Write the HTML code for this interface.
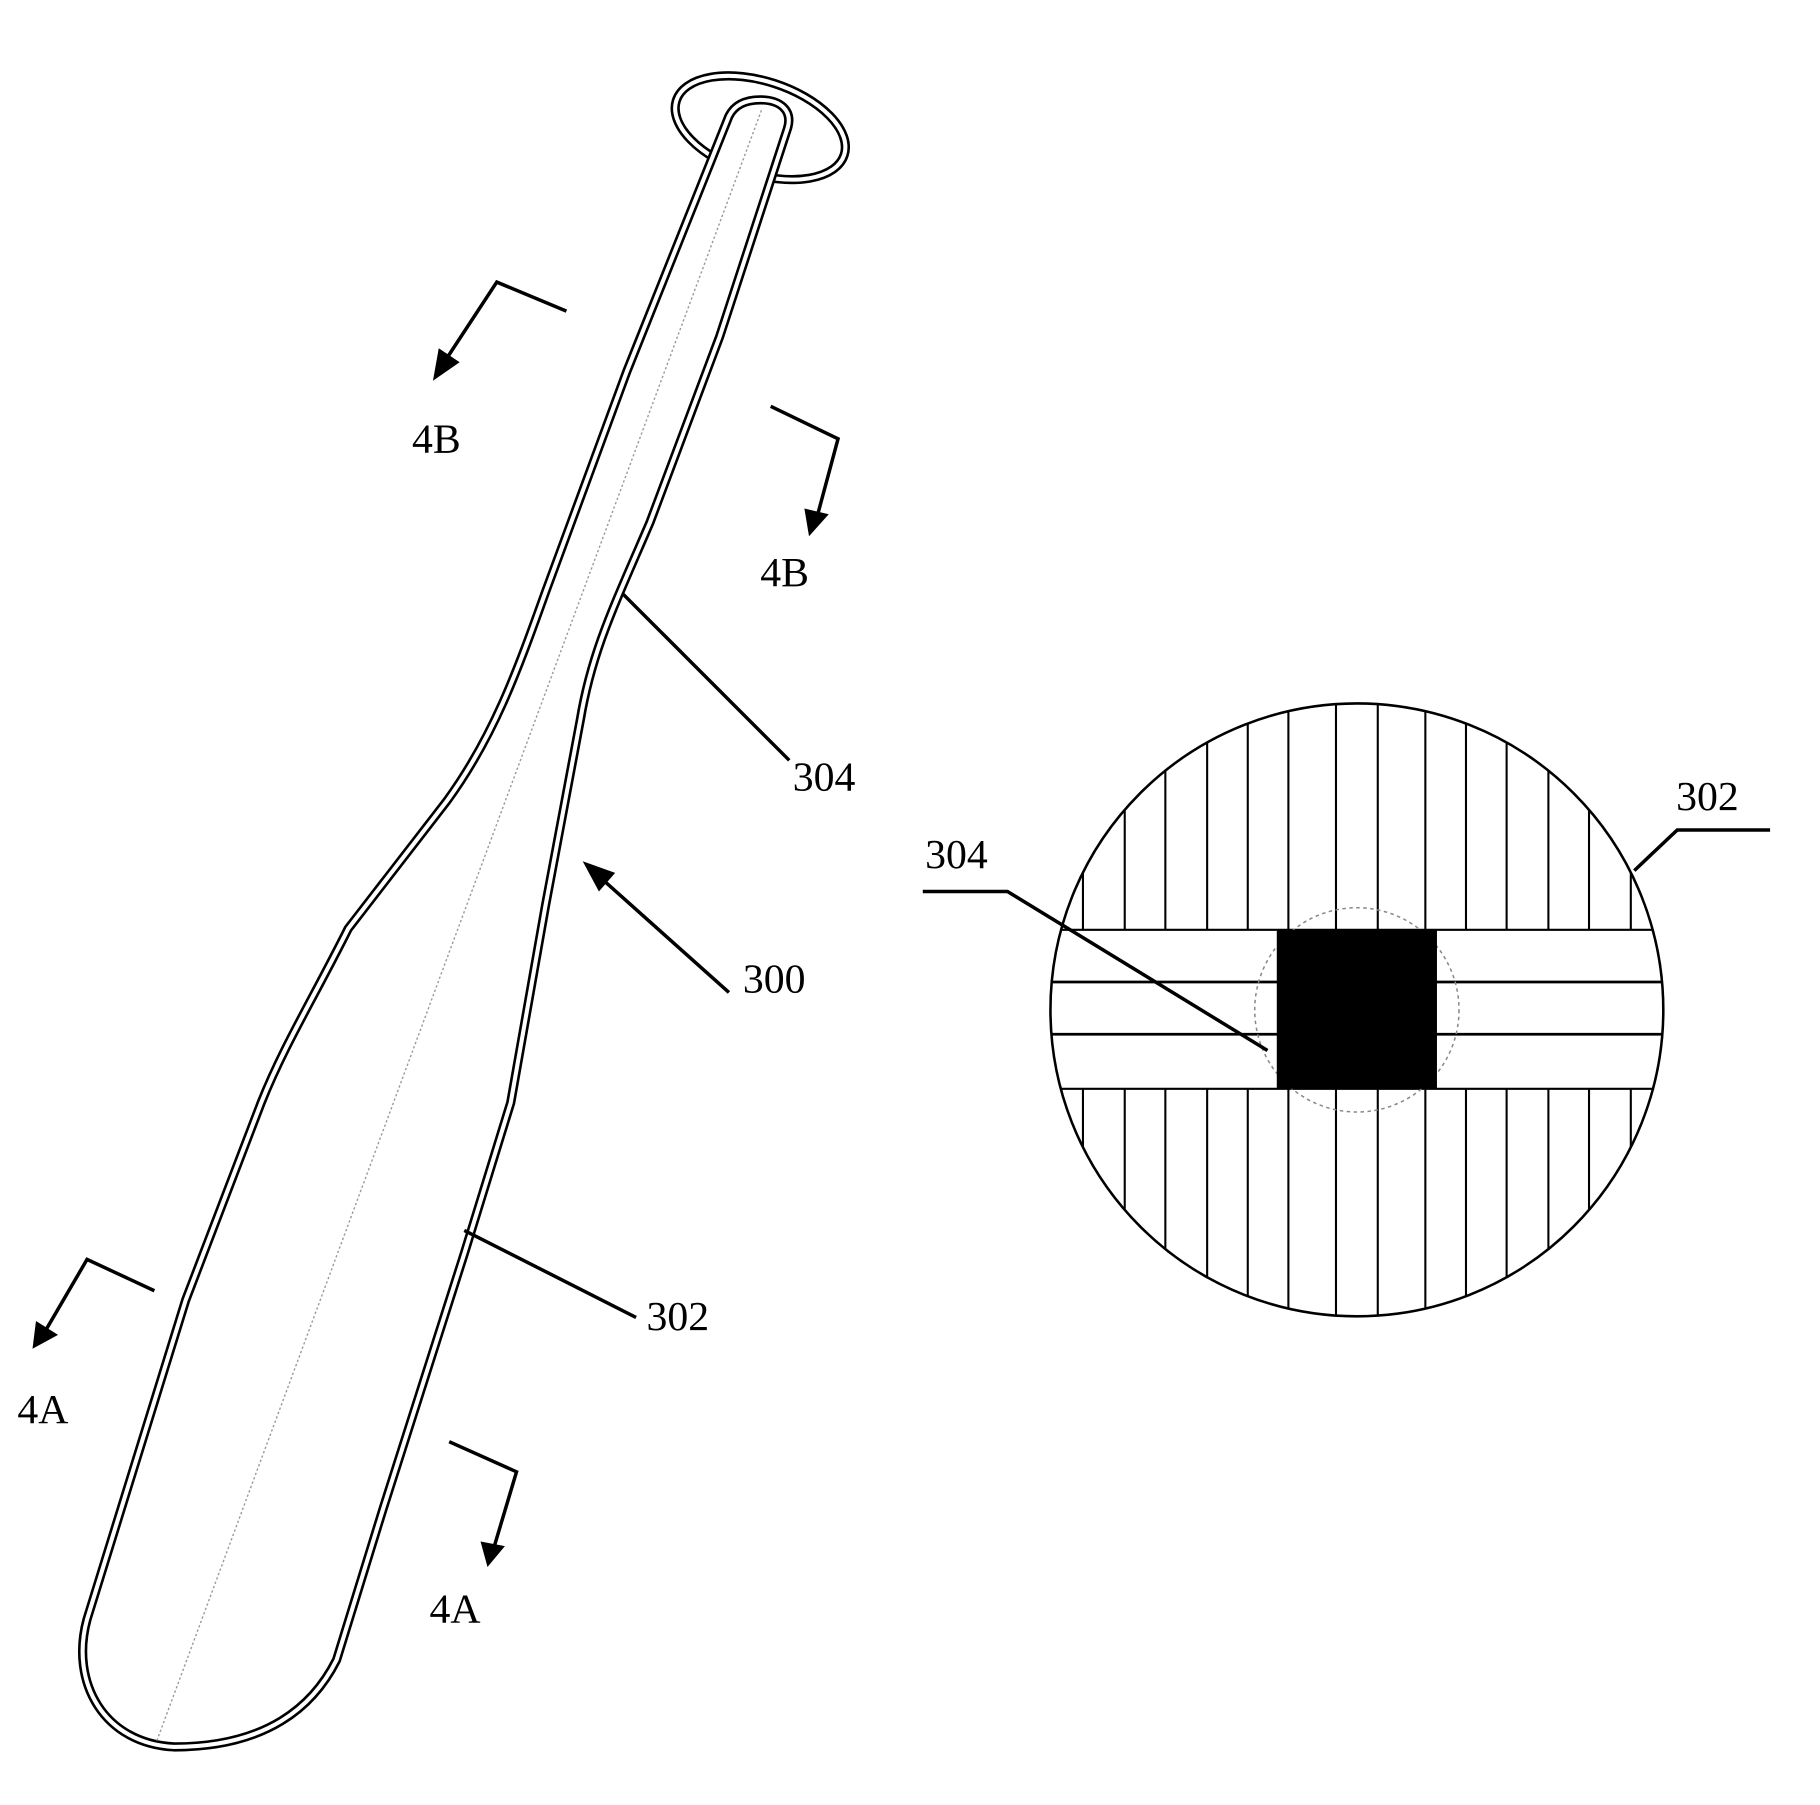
<!DOCTYPE html>
<html><head><meta charset="utf-8"><style>html,body{margin:0;padding:0;background:#fff}svg{display:block}</style></head>
<body>
<svg width="1820" height="1805" viewBox="0 0 1568 1555" xmlns="http://www.w3.org/2000/svg">
<defs>
<clipPath id="cc"><circle cx="1169" cy="870" r="264"/></clipPath>
</defs>
<rect width="1568" height="1555" fill="#fff"/>
<g font-family="Liberation Serif, serif" font-size="36" fill="#000">
<g transform="rotate(18 655 110)">
<ellipse cx="655" cy="110" rx="76" ry="40" fill="none" stroke="#000" stroke-width="8"/>
<ellipse cx="655" cy="110" rx="76" ry="40" fill="none" stroke="#fff" stroke-width="3.5"/>
</g>
<path d="M628,100 L540,320 L470,510 C445,580 425,635 385,690 L300,800 C270,860 245,900 225,950 L160,1120 L75,1395 C60,1450 90,1502 150,1505 C230,1505 270,1470 290,1430 L330,1300 L400,1080 L440,950 L470,780 L500,620 C510,560 530,520 560,450 L620,290 L678,112 C684,95 672,86 655,86 C640,86 632,92 628,100 Z" fill="#fff" stroke="#000" stroke-width="8"/>
<path d="M628,100 L540,320 L470,510 C445,580 425,635 385,690 L300,800 C270,860 245,900 225,950 L160,1120 L75,1395 C60,1450 90,1502 150,1505 C230,1505 270,1470 290,1430 L330,1300 L400,1080 L440,950 L470,780 L500,620 C510,560 530,520 560,450 L620,290 L678,112 C684,95 672,86 655,86 C640,86 632,92 628,100 Z" fill="none" stroke="#fff" stroke-width="3.5"/>
<line x1="656" y1="95" x2="135" y2="1500" stroke="#999" stroke-width="1.2" stroke-dasharray="2,2"/>
<g stroke="#000" stroke-width="3" fill="none">
<polyline points="488,268 428,243 384,310"/>
<polyline points="664,350 722,378 704,445"/>
<polyline points="133,1112 75,1085 40,1145"/>
<polyline points="387,1242 445,1268 425,1335"/>
<line x1="628" y1="855" x2="515" y2="754"/>
<line x1="537" y1="512" x2="680" y2="655"/>
<line x1="400" y1="1060" x2="548" y2="1135"/>
</g>
<g fill="#000">
<polygon points="373,328 378,300 396,312"/>
<polygon points="697,462 693,438 714,443"/>
<polygon points="28,1162 31,1138 50,1150"/>
<polygon points="420,1350 414,1328 435,1332"/>
<polygon points="502,742 530,752 516,768"/>
</g>
<text x="355" y="390">4B</text>
<text x="655" y="505">4B</text>
<text x="15" y="1226">4A</text>
<text x="370" y="1398">4A</text>
<text x="683" y="681">304</text>
<text x="640" y="855">300</text>
<text x="557" y="1146">302</text>
<g clip-path="url(#cc)" stroke="#000" stroke-width="1.8">
<line x1="933" y1="590" x2="933" y2="1150"/><line x1="969" y1="590" x2="969" y2="1150"/>
<line x1="1004" y1="590" x2="1004" y2="1150"/><line x1="1040" y1="590" x2="1040" y2="1150"/>
<line x1="1075" y1="590" x2="1075" y2="1150"/><line x1="1110" y1="590" x2="1110" y2="1150"/>
<line x1="1151" y1="590" x2="1151" y2="1150"/><line x1="1187" y1="590" x2="1187" y2="1150"/>
<line x1="1228" y1="590" x2="1228" y2="1150"/><line x1="1263" y1="590" x2="1263" y2="1150"/>
<line x1="1298" y1="590" x2="1298" y2="1150"/><line x1="1334" y1="590" x2="1334" y2="1150"/>
<line x1="1369" y1="590" x2="1369" y2="1150"/><line x1="1405" y1="590" x2="1405" y2="1150"/>
<rect x="890" y="801" width="560" height="137" fill="#fff" stroke="none"/>
<line x1="890" y1="801" x2="1450" y2="801"/>
<line x1="890" y1="846" x2="1450" y2="846" stroke-width="2.4"/>
<line x1="890" y1="891" x2="1450" y2="891" stroke-width="2.4"/>
<line x1="890" y1="938" x2="1450" y2="938"/>
</g>
<circle cx="1169" cy="870" r="88" fill="none" stroke="#888" stroke-width="1.3" stroke-dasharray="3,3"/>
<rect x="1100" y="801" width="138" height="137" fill="#000"/>
<circle cx="1169" cy="870" r="264" fill="none" stroke="#000" stroke-width="2.2"/>
<g stroke="#000" stroke-width="3" fill="none">
<polyline points="795,768 868,768 1092,905"/>
<polyline points="1525,715 1445,715 1408,750"/>
</g>
<text x="797" y="748">304</text>
<text x="1444" y="698">302</text>
</g>
</svg>
</body></html>
